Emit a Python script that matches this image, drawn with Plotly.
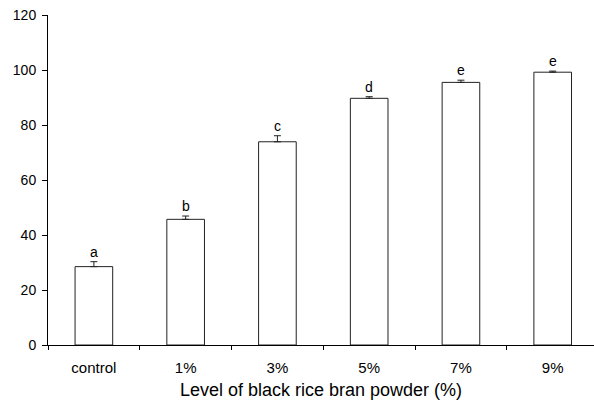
import plotly.graph_objects as go

categories = ["control", "1%", "3%", "5%", "7%", "9%"]
values = [28.5, 45.7, 73.9, 89.7, 95.5, 99.2]
errors = [1.8, 1.2, 2.2, 0.6, 0.8, 0.4]
letters = ["a", "b", "c", "d", "e", "e"]
y_ticks = [0, 20, 40, 60, 80, 100, 120]

FONT = "Liberation Sans, Arial, sans-serif"

fig = go.Figure()
fig.add_trace(go.Bar(
    x=categories, y=values, width=0.41,
    marker=dict(color="white", line=dict(color="#222222", width=1)),
    error_y=dict(type="data", symmetric=False, array=errors,
                 arrayminus=[0]*len(errors), color="#222222",
                 thickness=1, width=3.5),
    showlegend=False,
))

for c, v, e, l in zip(categories, values, errors, letters):
    fig.add_annotation(x=c, y=v + e, text=l, showarrow=False,
                       yanchor="bottom", yshift=0,
                       font=dict(family=FONT, size=14, color="black"))

fig.update_layout(
    width=594, height=404,
    margin=dict(l=48, r=0, t=15, b=59),
    paper_bgcolor="white", plot_bgcolor="white",
    font=dict(family=FONT, size=14, color="black"),
)
fig.update_xaxes(
    type="category", range=[-0.5, 5.45], automargin=False,
    showline=True, linecolor="black", linewidth=1,
    ticks="outside", tickson="boundaries", ticklen=4, tickcolor="black",
    tickfont=dict(size=15), ticklabelstandoff=9,
    title=dict(text="Level of black rice bran powder (%)", font=dict(size=18), standoff=8),
    showgrid=False, zeroline=False,
)
fig.update_yaxes(
    range=[0, 120], tickvals=y_ticks, automargin=False,
    showline=True, linecolor="black", linewidth=1,
    ticks="outside", ticklen=5, tickcolor="black",
    tickfont=dict(size=14), ticklabelstandoff=3,
    showgrid=False, zeroline=False,
)

fig.write_html("out.html", config={"displayModeBar": False},
               post_script="document.body.style.margin='0';")
